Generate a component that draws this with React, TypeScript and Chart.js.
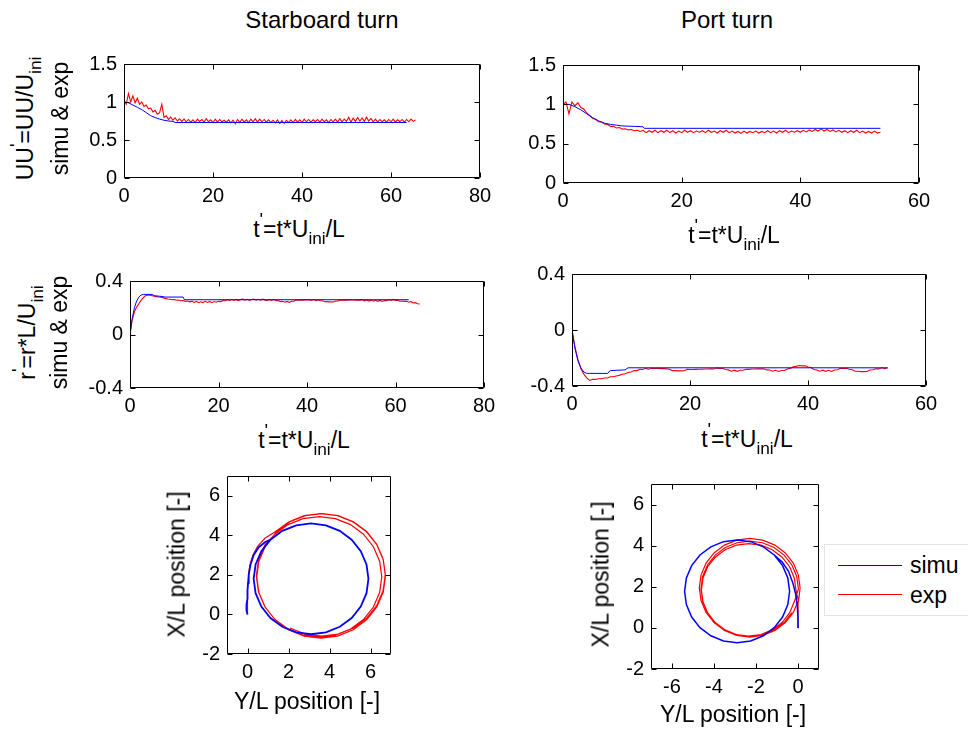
import React, { useEffect, useRef } from 'react';
import { Chart, registerables } from 'chart.js';

Chart.register(...registerables);

const FONT = '"Liberation Sans", Arial, Helvetica, sans-serif';
const BLUE = '#0000ff';
const RED = '#ff0000';
const EXP_DT = 0.5; // sample step of the experimental records

// ---------- Starboard turn: UU' ----------
const stbUSimT = [0, 1, 2, 3, 4, 5, 6, 7, 8, 9, 10, 11, 11.5, 63.5];
const stbUSim = [1.0, 0.99, 0.96, 0.93, 0.9, 0.86, 0.82, 0.795, 0.775, 0.76, 0.75, 0.745, 0.73, 0.73];
const stbUExp = [
  1.02, 0.97, 1.11, 1.0, 1.08, 0.99, 1.05, 0.97, 1.0, 0.94, 0.96, 0.91, 0.92, 0.87, 0.89, 0.84, 0.86, 0.97, 0.8, 0.82,
  0.77, 0.8, 0.76, 0.79, 0.75, 0.78, 0.745,
  0.775, 0.74, 0.77, 0.735, 0.765, 0.73, 0.775, 0.745, 0.77, 0.735, 0.78, 0.74, 0.765, 0.73, 0.775, 0.735, 0.77, 0.74, 0.76, 0.735,
  0.765, 0.725, 0.76, 0.715, 0.77, 0.73, 0.775, 0.735, 0.765, 0.73, 0.775, 0.74, 0.78, 0.735, 0.775, 0.74, 0.77, 0.735, 0.765, 0.73,
  0.76, 0.725, 0.765, 0.72, 0.755, 0.72, 0.76, 0.73, 0.765, 0.73, 0.77, 0.735, 0.765, 0.73, 0.775, 0.74, 0.77, 0.735, 0.765, 0.74,
  0.77, 0.735, 0.775, 0.74, 0.765, 0.73, 0.77, 0.74, 0.775, 0.735, 0.78, 0.74, 0.775, 0.745, 0.8, 0.735, 0.79, 0.745, 0.795, 0.75,
  0.79, 0.745, 0.8, 0.75, 0.785, 0.74, 0.775, 0.735, 0.77, 0.74, 0.765, 0.735, 0.77, 0.74, 0.775, 0.735, 0.765, 0.74, 0.77, 0.735,
  0.77, 0.74, 0.775, 0.745, 0.765,
];

// ---------- Port turn: UU' ----------
const portUSimT = [0, 1, 2, 3, 4, 5, 6, 7, 8, 9, 10, 12, 13.5, 13.7, 53.5];
const portUSim = [1.0, 1.0, 0.97, 0.93, 0.88, 0.83, 0.79, 0.76, 0.745, 0.735, 0.725, 0.72, 0.715, 0.695, 0.695];
const portUExp = [
  1.0, 1.03, 0.88, 1.03, 0.98, 1.02, 0.96, 0.94, 0.89, 0.86, 0.82, 0.81, 0.78, 0.775, 0.75, 0.745, 0.72, 0.72, 0.7, 0.705,
  0.685, 0.69, 0.675, 0.68, 0.665, 0.67, 0.655,
  0.67, 0.64, 0.665, 0.645, 0.67, 0.64, 0.665, 0.645, 0.67, 0.64, 0.665, 0.635, 0.66, 0.64, 0.67, 0.645, 0.665, 0.64, 0.66, 0.645,
  0.665, 0.64, 0.67, 0.645, 0.66, 0.635, 0.665, 0.645, 0.67, 0.64, 0.66, 0.635, 0.655, 0.63, 0.66, 0.635, 0.655, 0.64, 0.66, 0.635,
  0.655, 0.64, 0.665, 0.64, 0.66, 0.635, 0.665, 0.645, 0.67, 0.64, 0.66, 0.645, 0.665, 0.645, 0.67, 0.65, 0.675, 0.655, 0.68, 0.66,
  0.685, 0.66, 0.68, 0.655, 0.675, 0.65, 0.67, 0.645, 0.665, 0.64, 0.665, 0.645, 0.67, 0.64, 0.66, 0.635, 0.655, 0.635, 0.66, 0.635, 0.645,
];

// ---------- Starboard turn: r' ----------
const stbRSimT = [0, 0.5, 1, 1.5, 2, 2.5, 3, 5, 5.5, 7, 8, 12, 12.3, 63];
const stbRSim = [0, 0.12, 0.2, 0.25, 0.28, 0.295, 0.3, 0.3, 0.29, 0.285, 0.28, 0.28, 0.26, 0.26];
const stbRExp = [
  0.0, 0.11, 0.17, 0.205, 0.23, 0.255, 0.275, 0.29, 0.295, 0.293, 0.29, 0.287, 0.283, 0.28, 0.278, 0.274, 0.27, 0.266, 0.264, 0.26,
  0.262, 0.256, 0.258, 0.252, 0.254, 0.248, 0.25,
  0.244, 0.249, 0.24, 0.247, 0.238, 0.245, 0.239, 0.248, 0.24, 0.247, 0.238, 0.246, 0.241, 0.248, 0.246, 0.254, 0.252, 0.26, 0.254, 0.261,
  0.255, 0.262, 0.254, 0.261, 0.264, 0.256, 0.263, 0.255, 0.262, 0.265, 0.257, 0.263, 0.256, 0.264, 0.257, 0.254, 0.262, 0.255, 0.261, 0.253,
  0.254, 0.246, 0.248, 0.241, 0.247, 0.24, 0.249, 0.249, 0.257, 0.256, 0.258, 0.257, 0.259, 0.258, 0.26, 0.254, 0.261, 0.253, 0.259, 0.252,
  0.252, 0.245, 0.246, 0.244, 0.245, 0.243, 0.25, 0.25, 0.258, 0.256, 0.257, 0.257, 0.259, 0.258, 0.258, 0.256, 0.257, 0.257, 0.259, 0.252,
  0.258, 0.25, 0.257, 0.249, 0.256, 0.248, 0.255, 0.247, 0.254, 0.253, 0.26, 0.254, 0.262, 0.255, 0.256, 0.249, 0.25, 0.248, 0.248, 0.241,
  0.247, 0.236, 0.238, 0.23, 0.228,
];

// ---------- Port turn: r' ----------
const portRSimT = [0, 0.5, 1, 1.5, 2, 2.5, 3, 6, 6.5, 9, 9.5, 53.5];
const portRSim = [0, -0.13, -0.22, -0.27, -0.3, -0.31, -0.31, -0.31, -0.29, -0.285, -0.27, -0.27];
const portRExp = [
  0.0, -0.12, -0.21, -0.275, -0.315, -0.342, -0.36, -0.352, -0.353, -0.348, -0.348, -0.343, -0.343, -0.334, -0.334, -0.328, -0.324, -0.316, -0.312, -0.303,
  -0.3, -0.29, -0.29, -0.28, -0.282, -0.274, -0.28,
  -0.273, -0.275, -0.274, -0.276, -0.276, -0.278, -0.28, -0.29, -0.29, -0.292, -0.292, -0.291, -0.281, -0.282, -0.282, -0.281, -0.28, -0.28, -0.279, -0.279,
  -0.278, -0.278, -0.272, -0.274, -0.273, -0.282, -0.285, -0.294, -0.287, -0.295, -0.288, -0.288, -0.28, -0.281, -0.279, -0.279, -0.278, -0.278, -0.277, -0.285,
  -0.286, -0.294, -0.288, -0.296, -0.289, -0.289, -0.279, -0.274, -0.262, -0.26, -0.254, -0.256, -0.255, -0.264, -0.268, -0.282, -0.286, -0.294, -0.287, -0.295,
  -0.288, -0.296, -0.286, -0.284, -0.274, -0.275, -0.273, -0.28, -0.284, -0.295, -0.295, -0.297, -0.297, -0.296, -0.286, -0.284, -0.277, -0.278, -0.27, -0.276, -0.27,
];

// ---------- Starboard trajectory (horizontal Y/L, vertical X/L) ----------
const stbTrajSimY = [0, -0.05, -0.05, 0, 0, 0.03, 0.06, 0.14, 0.3, 0.55, 0.85, 1.12, 1.7, 2.375, 3.1, 3.825, 4.5, 5.08, 5.525, 5.805, 5.9,
  5.805, 5.525, 5.08, 4.5, 3.825, 3.1, 2.375, 1.7, 1.12, 0.675, 0.395, 0.3, 0.395, 0.675, 1.12, 1.7, 2.375, 3.1, 3.825, 4.5, 5.08, 5.525, 5.805, 5.9];
const stbTrajSimX = [0, 0.2, 0.5, 0.8, 1.2, 1.6, 2.0, 2.5, 3.0, 3.4, 3.65, 3.78, 4.225, 4.505, 4.6, 4.505, 4.225, 3.78, 3.2, 2.525, 1.8,
  1.075, 0.4, -0.18, -0.625, -0.905, -1.0, -0.905, -0.625, -0.18, 0.4, 1.075, 1.8, 2.525, 3.2, 3.78, 4.225, 4.505, 4.6, 4.505, 4.225, 3.78, 3.2, 2.525, 1.8];
const stbTrajExpY = [0, 0, -0.02, 0, 0.02, 0.05, 0.12, 0.26, 0.5, 0.85,
  1.353, 2.005, 2.765, 3.58, 4.395, 5.155, 5.807, 6.308, 6.623, 6.73, 6.623, 6.308, 5.807, 5.155, 4.395, 3.58, 2.765, 2.005, 1.353, 0.852, 0.537, 0.43, 0.537, 0.852,
  1.343, 1.975, 2.711, 3.5, 4.289, 5.025, 5.657, 6.141, 6.446, 6.55, 6.446, 6.141, 5.657, 5.025, 4.289, 3.5, 2.711, 1.975, 1.343, 0.859, 0.554, 0.45, 0.554, 0.859,
  1.428, 2.07, 2.818, 3.62, 4.422, 5.17, 5.812, 6.305, 6.614, 6.72, 6.614, 6.305, 5.812, 5.17, 4.422, 3.62, 2.818, 2.07];
const stbTrajExpX = [0, 0.3, 0.6, 1.0, 1.5, 2.0, 2.5, 3.0, 3.45, 3.85,
  4.177, 4.678, 4.993, 5.1, 4.993, 4.678, 4.177, 3.525, 2.765, 1.95, 1.135, 0.375, -0.277, -0.778, -1.093, -1.2, -1.093, -0.778, -0.277, 0.375, 1.135, 1.95, 2.765, 3.525,
  4.057, 4.541, 4.846, 4.95, 4.846, 4.541, 4.057, 3.425, 2.689, 1.9, 1.111, 0.375, -0.257, -0.741, -1.046, -1.15, -1.046, -0.741, -0.257, 0.375, 1.111, 1.9, 2.689, 3.425,
  4.192, 4.685, 4.994, 5.1, 4.994, 4.685, 4.192, 3.55, 2.802, 2.0, 1.198, 0.45, -0.192, -0.685, -0.994, -1.1, -0.994, -0.685];

// ---------- Port trajectory ----------
const portTrajSimY = [0, 0, -0.03, -0.1, -0.25, -0.45, -0.75,
  -1.132, -1.65, -2.253, -2.9, -3.547, -4.15, -4.668, -5.065, -5.315, -5.4, -5.315, -5.065, -4.668, -4.15, -3.547, -2.9, -2.253, -1.65, -1.132, -0.735, -0.485, -0.4, -0.485, -0.735,
  -1.132, -1.65, -2.253, -2.9];
const portTrajSimX = [0, 0.5, 1.0, 1.6, 2.2, 2.75, 3.2,
  3.548, 3.945, 4.195, 4.28, 4.195, 3.945, 3.548, 3.03, 2.427, 1.78, 1.133, 0.53, 0.012, -0.385, -0.635, -0.72, -0.635, -0.385, 0.012, 0.53, 1.133, 1.78, 2.427, 3.03,
  3.548, 3.945, 4.195, 4.28];
const portTrajExpY = [0, 0, 0, 0.01, 0.05,
  0.1, 0.018, -0.222, -0.603, -1.1, -1.679, -2.3, -2.921, -3.5, -3.997, -4.378, -4.618, -4.7, -4.618, -4.378, -3.997, -3.5, -2.921, -2.3, -1.679, -1.1, -0.603, -0.222, 0.018,
  -0.1, -0.177, -0.401, -0.759, -1.225, -1.768, -2.35, -2.932, -3.475, -3.941, -4.299, -4.523, -4.6, -4.523, -4.299, -3.941, -3.475, -2.932, -2.35, -1.768, -1.225, -0.759, -0.401, -0.177,
  0.02, -0.059, -0.291, -0.66, -1.14, -1.7, -2.3, -2.9, -3.46, -3.94, -4.309, -4.541, -4.62, -4.541, -4.309, -3.94, -3.46, -2.9, -2.3, -1.7, -1.14, -0.66, -0.291];
const portTrajExpX = [0, 0.4, 0.8, 1.2, 1.5,
  1.95, 2.571, 3.15, 3.647, 4.028, 4.268, 4.35, 4.268, 4.028, 3.647, 3.15, 2.571, 1.95, 1.329, 0.75, 0.253, -0.128, -0.368, -0.45, -0.368, -0.128, 0.253, 0.75, 1.329,
  1.85, 2.432, 2.975, 3.441, 3.799, 4.023, 4.1, 4.023, 3.799, 3.441, 2.975, 2.432, 1.85, 1.268, 0.725, 0.259, -0.099, -0.323, -0.4, -0.323, -0.099, 0.259, 0.725, 1.268,
  1.9, 2.5, 3.06, 3.54, 3.909, 4.141, 4.22, 4.141, 3.909, 3.54, 3.06, 2.5, 1.9, 1.3, 0.74, 0.26, -0.109, -0.341, -0.42, -0.341, -0.109, 0.26, 0.74];

// ---------- ticks ----------
const timeTicks80 = [0, 20, 40, 60, 80];
const timeTicks80Labels = ['0', '20', '40', '60', '80'];
const timeTicks60 = [0, 20, 40, 60];
const timeTicks60Labels = ['0', '20', '40', '60'];
const uTicks = [0, 0.5, 1, 1.5];
const uTickLabels = ['0', '0.5', '1', '1.5'];
const rTicks = [-0.4, 0, 0.4];
const rTickLabels = ['-0.4', '0', '0.4'];
const stbYTicks = [0, 2, 4, 6];
const stbYTickLabels = ['0', '2', '4', '6'];
const portYTicks = [-6, -4, -2, 0];
const portYTickLabels = ['-6', '-4', '-2', '0'];
const posXTicks = [-2, 0, 2, 4, 6];
const posXTickLabels = ['-2', '0', '2', '4', '6'];

const legendLabels = ['simu', 'exp'];

const zip = (xs: number[], ys: number[]) => xs.map((x, i) => ({ x, y: ys[i] }));
const sampled = (vals: number[]) => vals.map((y, i) => ({ x: i * EXP_DT, y }));

const boxTicks = {
  id: 'boxTicks',
  afterDraw(chart: any) {
    const { ctx, chartArea: a, scales } = chart;
    const L = 5;
    const l = Math.round(a.left) + 0.5;
    const r = Math.round(a.right) - 0.5;
    const t = Math.round(a.top) + 0.5;
    const b = Math.round(a.bottom) - 0.5;
    ctx.save();
    ctx.strokeStyle = '#000';
    ctx.lineWidth = 1;
    ctx.beginPath();
    ctx.rect(l, t, r - l, b - t);
    for (const tk of scales.x.ticks) {
      const p = Math.round(scales.x.getPixelForValue(tk.value)) + 0.5;
      ctx.moveTo(p, b); ctx.lineTo(p, b - L);
      ctx.moveTo(p, t); ctx.lineTo(p, t + L);
    }
    for (const tk of scales.y.ticks) {
      const p = Math.round(scales.y.getPixelForValue(tk.value)) + 0.5;
      ctx.moveTo(l, p); ctx.lineTo(l + L, p);
      ctx.moveTo(r, p); ctx.lineTo(r - L, p);
    }
    ctx.stroke();
    ctx.restore();
  },
};

type Box = { l: number; t: number; r: number; b: number };
type Series = { label: string; data: { x: number; y: number }[]; color: string; width: number };

const PADL = 64;
const PADT = 14;
const PADR = 24;
const PADB = 34;

function Panel(props: {
  box: Box; xMin: number; xMax: number; yMin: number; yMax: number;
  xTicks: number[]; xLabels: string[]; yTicks: number[]; yLabels: string[]; series: Series[];
}) {
  const ref = useRef<HTMLCanvasElement>(null);
  const { box } = props;
  const w = box.r - box.l + PADL + PADR;
  const h = box.b - box.t + PADT + PADB;
  useEffect(() => {
    const tickFont = { family: FONT, size: 20 };
    const chart = new Chart(ref.current as HTMLCanvasElement, {
      type: 'scatter',
      data: {
        datasets: props.series.map((s) => ({
          label: s.label,
          data: s.data,
          showLine: true,
          borderColor: s.color,
          backgroundColor: s.color,
          borderWidth: s.width,
          pointRadius: 0,
          pointHoverRadius: 0,
          tension: 0,
          fill: false,
        })),
      },
      options: {
        responsive: false,
        animation: false,
        devicePixelRatio: 1,
        events: [],
        layout: { padding: { left: 0, top: PADT, right: PADR, bottom: 0 } },
        plugins: { legend: { display: false }, tooltip: { enabled: false }, title: { display: false } },
        scales: {
          x: {
            type: 'linear',
            min: props.xMin,
            max: props.xMax,
            afterBuildTicks: (s: any) => { s.ticks = props.xTicks.map((v) => ({ value: v })); },
            afterFit: (s: any) => { s.height = PADB; },
            grid: { display: false, drawTicks: false },
            border: { display: false },
            ticks: {
              font: tickFont, color: '#000', padding: 6, maxRotation: 0, autoSkip: false,
              callback: (_v: any, i: number) => props.xLabels[i],
            },
          },
          y: {
            type: 'linear',
            min: props.yMin,
            max: props.yMax,
            afterBuildTicks: (s: any) => { s.ticks = props.yTicks.map((v) => ({ value: v })); },
            afterFit: (s: any) => { s.width = PADL; },
            grid: { display: false, drawTicks: false },
            border: { display: false },
            ticks: {
              font: tickFont, color: '#000', padding: 7, autoSkip: false,
              callback: (_v: any, i: number) => props.yLabels[i],
            },
          },
        },
      } as any,
      plugins: [boxTicks],
    });
    return () => chart.destroy();
  }, []);
  return (
    <canvas
      ref={ref}
      width={w}
      height={h}
      style={{ position: 'absolute', left: box.l - PADL, top: box.t - PADT, width: w, height: h }}
    />
  );
}

const ASC = 0.8465;

function HText(props: { cx: number; baseline: number; fs: number; children: any }) {
  const a = props.fs * ASC;
  return (
    <div style={{
      position: 'absolute', left: props.cx - 200, top: props.baseline - a, width: 400, textAlign: 'center',
      fontSize: props.fs, lineHeight: `${props.fs}px`, whiteSpace: 'nowrap',
    }}>{props.children}</div>
  );
}

function VText(props: { x: number; cy: number; fs: number; children: any }) {
  const a = props.fs * ASC;
  return (
    <div style={{
      position: 'absolute', left: props.x - 200, top: props.cy - a, width: 400, textAlign: 'center',
      fontSize: props.fs, lineHeight: `${props.fs}px`, whiteSpace: 'nowrap',
      transformOrigin: `200px ${a}px`, transform: 'rotate(-90deg)',
    }}>{props.children}</div>
  );
}

const Sub = (p: { children: any }) => (
  <span style={{ fontSize: '0.75em', position: 'relative', top: '0.45em' }}>{p.children}</span>
);
const Prime = () => (
  <span style={{ fontSize: '0.8em', position: 'relative', top: '-0.55em' }}>'</span>
);

const TimeLabel = () => (
  <>t<Prime />=t*U<Sub>ini</Sub>/L</>
);

export default function App() {
  const AX = 23;
  return (
    <div style={{
      position: 'absolute', left: 0, top: 0, width: 968, height: 733, background: '#fff',
      fontFamily: FONT, color: '#000', overflow: 'hidden',
    }}>
      <HText cx={322} baseline={28} fs={24}>Starboard turn</HText>
      <HText cx={727} baseline={28} fs={24}>Port turn</HText>

      <Panel
        box={{ l: 124, t: 59, r: 480, b: 178 }} xMin={0} xMax={80} yMin={0} yMax={1.5}
        xTicks={timeTicks80} xLabels={timeTicks80Labels} yTicks={uTicks} yLabels={uTickLabels}
        series={[
          { label: legendLabels[0], data: zip(stbUSimT, stbUSim), color: BLUE, width: 1 },
          { label: legendLabels[1], data: sampled(stbUExp), color: RED, width: 1.1 },
        ]}
      />
      <Panel
        box={{ l: 563, t: 60, r: 919, b: 183 }} xMin={0} xMax={60} yMin={0} yMax={1.5}
        xTicks={timeTicks60} xLabels={timeTicks60Labels} yTicks={uTicks} yLabels={uTickLabels}
        series={[
          { label: legendLabels[0], data: zip(portUSimT, portUSim), color: BLUE, width: 1 },
          { label: legendLabels[1], data: sampled(portUExp), color: RED, width: 1.1 },
        ]}
      />
      <Panel
        box={{ l: 130, t: 276, r: 484, b: 388 }} xMin={0} xMax={80} yMin={-0.4} yMax={0.4}
        xTicks={timeTicks80} xLabels={timeTicks80Labels} yTicks={rTicks} yLabels={rTickLabels}
        series={[
          { label: legendLabels[0], data: zip(stbRSimT, stbRSim), color: BLUE, width: 1 },
          { label: legendLabels[1], data: sampled(stbRExp), color: RED, width: 1.1 },
        ]}
      />
      <Panel
        box={{ l: 572, t: 269, r: 926, b: 386 }} xMin={0} xMax={60} yMin={-0.4} yMax={0.4}
        xTicks={timeTicks60} xLabels={timeTicks60Labels} yTicks={rTicks} yLabels={rTickLabels}
        series={[
          { label: legendLabels[0], data: zip(portRSimT, portRSim), color: BLUE, width: 1 },
          { label: legendLabels[1], data: sampled(portRExp), color: RED, width: 1.1 },
        ]}
      />
      <Panel
        box={{ l: 227, t: 471, r: 391, b: 654 }} xMin={-1} xMax={7} yMin={-2} yMax={7}
        xTicks={stbYTicks} xLabels={stbYTickLabels} yTicks={posXTicks} yLabels={posXTickLabels}
        series={[
          { label: legendLabels[0], data: zip(stbTrajSimY, stbTrajSimX), color: BLUE, width: 1.8 },
          { label: legendLabels[1], data: zip(stbTrajExpY, stbTrajExpX), color: RED, width: 1.2 },
        ]}
      />
      <Panel
        box={{ l: 651, t: 479, r: 819, b: 669 }} xMin={-7} xMax={1} yMin={-2} yMax={7}
        xTicks={portYTicks} xLabels={portYTickLabels} yTicks={posXTicks} yLabels={posXTickLabels}
        series={[
          { label: legendLabels[0], data: zip(portTrajSimY, portTrajSimX), color: BLUE, width: 1.5 },
          { label: legendLabels[1], data: zip(portTrajExpY, portTrajExpX), color: RED, width: 1.2 },
        ]}
      />

      {/* axis labels */}
      <HText cx={299} baseline={237} fs={AX}><TimeLabel /></HText>
      <HText cx={734} baseline={243} fs={AX}><TimeLabel /></HText>
      <HText cx={304} baseline={448} fs={AX}><TimeLabel /></HText>
      <HText cx={747} baseline={447} fs={AX}><TimeLabel /></HText>

      <VText x={33} cy={118} fs={AX}>UU<Prime />=UU/U<Sub>ini</Sub></VText>
      <VText x={68} cy={118} fs={AX}>simu &amp; exp</VText>
      <VText x={35} cy={332} fs={AX}>r<Prime />=r*L/U<Sub>ini</Sub></VText>
      <VText x={67} cy={332} fs={AX}>simu &amp; exp</VText>

      <VText x={185} cy={564} fs={AX}>X/L position [-]</VText>
      <VText x={609} cy={574} fs={AX}>X/L position [-]</VText>
      <HText cx={307} baseline={709} fs={AX}>Y/L position [-]</HText>
      <HText cx={733} baseline={722} fs={AX}>Y/L position [-]</HText>

      {/* legend */}
      <div style={{
        position: 'absolute', left: 824, top: 544, width: 170, height: 72, boxSizing: 'border-box',
        border: '1px solid #e4e4e4', background: '#fff',
      }} />
      <div style={{ position: 'absolute', left: 838, top: 565, width: 64, height: 1, background: BLUE }} />
      <div style={{ position: 'absolute', left: 838, top: 594, width: 64, height: 1, background: RED }} />
      <div style={{ position: 'absolute', left: 910, top: 573 - AX * ASC, fontSize: AX, lineHeight: `${AX}px`, whiteSpace: 'nowrap' }}>{legendLabels[0]}</div>
      <div style={{ position: 'absolute', left: 910, top: 603 - AX * ASC, fontSize: AX, lineHeight: `${AX}px`, whiteSpace: 'nowrap' }}>{legendLabels[1]}</div>
    </div>
  );
}
